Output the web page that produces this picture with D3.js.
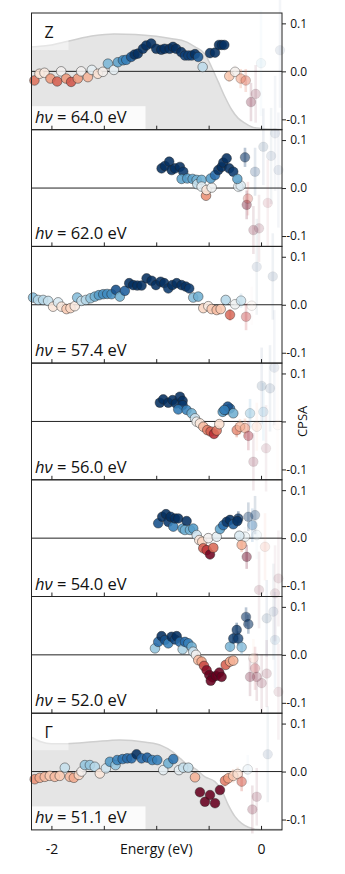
<!DOCTYPE html>
<html><head><meta charset="utf-8">
<script src="https://cdn.jsdelivr.net/npm/d3@7"></script>
<style>
body{margin:0;background:#fff}
svg{display:block}
text{font-family:"Open Sans",sans-serif;fill:#111}
</style>
</head><body><svg id="c" width="345" height="874"></svg>
<script>
// ---------- data ----------
const photonEnergies = ["64.0","62.0","57.4","56.0","54.0","52.0","51.1"];
const kLabels = ["Z","","","","","","Γ"];
const xTicks = [-2,-1.5,-1,-0.5,0];
const xTickLabels = ["-2","","","","0"];
const yTicks = [-0.1,0,0.1];

// solid points: [energy (eV), CPSA]
const cpsa64 = [[-2.162,-0.019],[-2.114,-0.005],[-2.066,-0.003],[-2.009,-0.015],[-1.945,-0.021],[-1.907,0.0],[-1.859,-0.015],[-1.812,-0.022],[-1.748,-0.015],[-1.716,0.0],[-1.652,-0.012],[-1.614,0.003],[-1.557,-0.005],[-1.509,-0.001],[-1.461,0.016],[-1.404,0.003],[-1.366,0.019],[-1.318,0.023],[-1.286,0.024],[-1.239,0.030],[-1.207,0.035],[-1.175,0.037],[-1.127,0.047],[-1.095,0.054],[-1.048,0.058],[-1.0,0.047],[-0.952,0.045],[-0.92,0.047],[-0.872,0.047],[-0.84,0.051],[-0.809,0.047],[-0.761,0.040],[-0.726,0.033],[-0.694,0.033],[-0.662,0.033],[-0.630,0.036],[-0.599,0.030],[-0.557,0.009],[-0.487,0.038],[-0.439,0.039],[-0.401,0.055],[-0.375,0.055],[-0.350,0.055]];
const cpsa62 = [[-0.949,0.041],[-0.917,0.046],[-0.876,0.055],[-0.853,0.0375],[-0.821,0.041],[-0.774,0.044],[-0.742,0.034],[-0.758,0.019],[-0.704,0.020],[-0.653,0.019],[-0.614,0.017],[-0.608,0.008],[-0.567,0.017],[-0.567,0.003],[-0.525,-0.016],[-0.52,-0.004],[-0.471,0.001],[-0.480,0.020],[-0.439,0.027],[-0.408,0.0375],[-0.376,0.044],[-0.360,0.053],[-0.328,0.062],[-0.303,0.041],[-0.265,0.034],[-0.226,0.019]];
const cpsa574 = [[-2.175,0.015],[-2.127,0.010],[-2.079,0.010],[-2.031,0.008],[-1.984,-0.004],[-1.936,0.005],[-1.904,-0.004],[-1.856,-0.009],[-1.818,-0.007],[-1.777,-0.003],[-1.754,0.015],[-1.713,0.008],[-1.671,0.010],[-1.627,0.0135],[-1.586,0.017],[-1.547,0.020],[-1.506,0.022],[-1.468,0.0225],[-1.426,0.022],[-1.385,0.031],[-1.347,0.017],[-1.299,0.029],[-1.258,0.045],[-1.220,0.041],[-1.181,0.040],[-1.140,0.040],[-1.092,0.055],[-1.044,0.050],[-1.003,0.041],[-0.958,0.048],[-0.923,0.045],[-0.885,0.034],[-0.847,0.041],[-0.805,0.045],[-0.758,0.041],[-0.719,0.038],[-0.685,0.034],[-0.647,0.015],[-0.599,0.017],[-0.551,-0.007],[-0.503,-0.003],[-0.471,-0.009],[-0.423,-0.011],[-0.385,-0.009],[-0.337,0.010]];
const cpsa56 = [[-0.965,0.039],[-0.933,0.046],[-0.885,0.039],[-0.844,0.0445],[-0.812,0.0375],[-0.774,0.0515],[-0.748,0.043],[-0.748,0.034],[-0.790,0.025],[-0.710,0.024],[-0.662,0.017],[-0.630,0.0065],[-0.614,-0.0005],[-0.583,-0.004],[-0.551,-0.011],[-0.513,-0.018],[-0.481,-0.021],[-0.449,-0.026],[-0.423,-0.019],[-0.398,-0.0055],[-0.366,0.020],[-0.334,0.024],[-0.296,0.027],[-0.318,0.031],[-0.265,0.017],[-0.350,0.024]];
const cpsa54 = [[-0.981,0.031],[-0.943,0.0445],[-0.907,0.050],[-0.885,0.034],[-0.863,0.0445],[-0.837,0.024],[-0.821,0.041],[-0.790,0.041],[-0.748,0.020],[-0.710,0.0356],[-0.726,0.017],[-0.678,0.017],[-0.647,0.020],[-0.614,0.0065],[-0.589,-0.004],[-0.561,-0.0075],[-0.551,-0.021],[-0.519,-0.025],[-0.487,-0.034],[-0.455,-0.020],[-0.503,0.000],[-0.423,0.003],[-0.392,0.019],[-0.360,0.027],[-0.328,0.034],[-0.296,0.038],[-0.265,0.029],[-0.226,0.0356],[-0.207,0.005]];
const cpsa52 = [[-1.012,0.0135],[-0.981,0.027],[-0.949,0.039],[-0.917,0.031],[-0.885,0.024],[-0.853,0.0377],[-0.821,0.032],[-0.805,0.039],[-0.774,0.027],[-0.748,0.0115],[-0.726,0.027],[-0.694,0.024],[-0.662,0.017],[-0.647,0.0065],[-0.621,0.000],[-0.599,-0.011],[-0.567,-0.014],[-0.544,-0.023],[-0.519,-0.032],[-0.494,-0.042],[-0.461,-0.047],[-0.480,-0.054],[-0.430,-0.044],[-0.398,-0.037],[-0.376,-0.046],[-0.337,-0.021],[-0.296,-0.014],[-0.265,-0.012]];
const cpsa511 = [[-2.159,-0.016],[-2.111,-0.013],[-2.063,-0.011],[-2.015,-0.009],[-1.968,-0.011],[-1.920,-0.009],[-1.872,0.008],[-1.824,-0.011],[-1.786,-0.013],[-1.738,-0.007],[-1.713,0.000],[-1.681,0.0135],[-1.633,0.0135],[-1.586,0.010],[-1.538,-0.004],[-1.480,0.0067],[-1.442,0.0204],[-1.388,0.0135],[-1.372,0.024],[-1.321,0.026],[-1.277,0.0275],[-1.235,0.0275],[-1.188,0.036],[-1.140,0.0275],[-1.086,0.029],[-1.038,0.024],[-0.990,0.024],[-0.933,0.003],[-0.885,0.017],[-0.837,0.026],[-0.783,0.003],[-0.742,0.008],[-0.694,0.008],[-0.630,-0.012],[-0.583,-0.043],[-0.535,-0.063],[-0.487,-0.049],[-0.439,-0.066],[-0.392,-0.0385]];

// faint points near E_F: [energy (eV), CPSA, error]
const faint64 = [[-0.303,-0.010,0.012],[-0.248,-0.001,0.014],[-0.194,-0.015,0.02],[-0.146,-0.019,0.024],[-0.096,-0.064,0.04],[-0.051,-0.047,0.06],[0.0,0.017,0.11],[0.181,0.044,0.12]];
const faint62 = [[-0.217,0.003,0.013],[-0.194,0.005,0.014],[-0.153,0.064,0.02],[-0.137,-0.035,0.03],[-0.125,-0.022,0.035],[-0.073,-0.0875,0.05],[-0.057,0.034,0.05],[-0.019,-0.084,0.07],[0.022,0.086,0.08],[0.064,-0.031,0.09],[0.096,0.067,0.1],[0.134,0.114,0.12],[0.166,0.0375,0.12]];
const faint574 = [[-0.296,-0.021,0.012],[-0.248,0.001,0.012],[-0.191,0.0085,0.015],[-0.143,-0.025,0.028],[-0.089,-0.002,0.04],[-0.041,0.079,0.1],[0.112,0.059,0.09]];
const faint56 = [[-0.232,-0.018,0.015],[-0.201,-0.011,0.016],[-0.153,-0.014,0.02],[-0.121,-0.030,0.03],[-0.105,0.017,0.03],[-0.041,-0.011,0.05],[-0.073,-0.084,0.06],[0.022,0.020,0.06],[0.006,0.074,0.08],[0.086,0.069,0.09],[0.127,0.112,0.12],[0.048,-0.056,0.09],[0.159,-0.0075,0.12]];
const faint54 = [[-0.217,0.041,0.015],[-0.185,-0.014,0.015],[-0.153,0.003,0.02],[-0.137,-0.039,0.025],[-0.121,0.0445,0.03],[-0.083,0.027,0.035],[-0.057,0.048,0.04],[-0.041,0.0065,0.05],[0.038,-0.018,0.07],[-0.019,-0.108,0.08],[0.166,-0.084,0.1],[0.134,-0.115,0.1]];
const faint52 = [[-0.296,0.017,0.01],[-0.265,0.034,0.012],[-0.232,0.052,0.015],[-0.217,0.034,0.015],[-0.185,0.016,0.015],[-0.143,0.079,0.02],[-0.121,0.064,0.02],[-0.073,-0.007,0.04],[-0.057,-0.028,0.045],[-0.105,-0.046,0.04],[-0.041,-0.046,0.05],[0.006,-0.059,0.06],[0.054,-0.039,0.07],[0.054,0.076,0.08],[0.118,0.090,0.1],[0.134,0.031,0.1],[0.166,-0.077,0.1]];
const faint511 = [[-0.344,-0.019,0.012],[-0.312,-0.014,0.012],[-0.265,-0.009,0.014],[-0.223,-0.005,0.015],[-0.185,-0.021,0.02],[-0.127,0.0046,0.03],[-0.083,-0.079,0.05],[-0.041,-0.0525,0.06],[0.064,0.036,0.1]];

// EDC spectra shown in grey (scaled onto CPSA axis)
const specZE = [-2.19,-2.0,-1.8,-1.6,-1.4,-1.2,-1.0,-0.85,-0.72,-0.63,-0.535,-0.47,-0.41,-0.345,-0.28,-0.217,-0.153,-0.073,0.0,0.2];
const specZI = [0.051,0.055,0.065,0.074,0.078,0.077,0.073,0.068,0.062,0.051,0.036,0.008,-0.021,-0.053,-0.080,-0.098,-0.108,-0.117,-0.119,-0.121];
const specGE = [-2.19,-2.1,-2.0,-1.85,-1.6,-1.35,-1.1,-0.95,-0.85,-0.77,-0.70,-0.63,-0.535,-0.44,-0.376,-0.312,-0.248,-0.185,-0.121,-0.05,0.2];
const specGI = [0.0715,0.062,0.058,0.058,0.062,0.066,0.061,0.054,0.042,0.027,0.014,0.006,-0.011,-0.021,-0.0385,-0.07,-0.094,-0.108,-0.116,-0.12,-0.121];

const solidSets = [cpsa64,cpsa62,cpsa574,cpsa56,cpsa54,cpsa52,cpsa511];
const faintSets = [faint64,faint62,faint574,faint56,faint54,faint52,faint511];
const spectra = [d3.zip(specZE,specZI),null,null,null,null,null,d3.zip(specGE,specGI)];

// ---------- layout ----------
const left=31.5, right=282, top0=13, panelH=116.7;
const titlePanel = 3; // panel whose zero label is replaced by the axis title
const x = d3.scaleLinear().domain([-2.19,0.2]).range([left,right]);
const color = d3.scaleSequential(d3.interpolateRdBu).domain([-0.035,0.035]).clamp(true);
const alphaOf = e => Math.max(0.08, Math.min(0.8, 0.011/e));
const fmt = d => d3.format(".1f")(d).replace("\u2212","-");
const svg = d3.select("#c");
const yScales = photonEnergies.map((_,i)=>{
  const t = top0+i*panelH;
  return d3.scaleLinear().domain([-0.1216,0.1216]).range([t+panelH,t]);
});

const gBg = svg.append("g"), gData = svg.append("g"), gFg = svg.append("g");

photonEnergies.forEach((hv,i)=>{
  const y = yScales[i];
  const t = top0+i*panelH, b = t+panelH;
  gBg.append("rect").attr("x",left).attr("y",t).attr("width",right-left).attr("height",panelH).attr("fill","#fff");
  if (spectra[i]) {
    const area = d3.area().x(d=>x(d[0])).y0(b).y1(d=>y(d[1])).curve(d3.curveMonotoneX);
    const line = d3.line().x(d=>x(d[0])).y(d=>y(d[1])).curve(d3.curveMonotoneX);
    gBg.append("path").datum(spectra[i]).attr("d",area).attr("fill","#e5e5e5");
    gBg.append("path").datum(spectra[i]).attr("d",line).attr("fill","none").attr("stroke","#cfcfcf").attr("stroke-width",1.5);
  }
  if (kLabels[i]) {
    gBg.append("rect").attr("x",left).attr("y",t).attr("width",37).attr("height",37).attr("fill","#fff").attr("opacity",0.45);
  }
  gBg.append("rect").attr("x",left).attr("y",b-23.5).attr("width",114).attr("height",23.5).attr("fill","#fff").attr("opacity",0.85);

  // zero line
  gData.append("line").attr("x1",left).attr("x2",right).attr("y1",y(0)).attr("y2",y(0)).attr("stroke","#222").attr("stroke-width",1);

  // faint points with error bars
  const fg = gData.append("g");
  fg.selectAll("line.err").data(faintSets[i]).join("line")
    .attr("x1",d=>x(d[0])).attr("x2",d=>x(d[0]))
    .attr("y1",d=>y(d[1]-d[2])).attr("y2",d=>y(d[1]+d[2]))
    .attr("stroke",d=>color(d[1])).attr("stroke-width",2.6)
    .attr("stroke-opacity",d=>alphaOf(d[2])*0.5);
  fg.selectAll("circle").data(faintSets[i]).join("circle")
    .attr("cx",d=>x(d[0])).attr("cy",d=>y(d[1])).attr("r",4.8)
    .attr("fill",d=>color(d[1])).attr("fill-opacity",d=>alphaOf(d[2]))
    .attr("stroke","#222").attr("stroke-width",0.75).attr("stroke-opacity",d=>alphaOf(d[2])*0.6);

  // solid points
  gData.append("g").selectAll("circle").data(solidSets[i]).join("circle")
    .attr("cx",d=>x(d[0])).attr("cy",d=>y(d[1])).attr("r",4.8)
    .attr("fill",d=>color(d[1])).attr("fill-opacity",0.88)
    .attr("stroke","#222").attr("stroke-width",0.75).attr("stroke-opacity",0.6);

  // frame
  gFg.append("rect").attr("x",left).attr("y",t).attr("width",right-left).attr("height",panelH)
    .attr("fill","none").attr("stroke","#222").attr("stroke-width",1);

  // right axis
  const ay = gFg.append("g").attr("transform",`translate(${right},0)`)
    .call(d3.axisRight(y).tickValues(yTicks).tickSize(4)
      .tickFormat(d => (i===titlePanel && d===0) ? "" : fmt(d)));
  ay.select(".domain").remove();
  ay.selectAll("line").attr("stroke","#222");
  ay.selectAll("text").attr("text-anchor","end").attr("x",25).attr("font-size",12)
    .attr("font-family","'Open Sans',sans-serif").attr("fill","#111");

  // bottom inward ticks
  const ax = gFg.append("g").attr("transform",`translate(0,${b})`)
    .call(d3.axisBottom(x).tickValues(xTicks).tickSizeInner(-4).tickSizeOuter(0)
      .tickFormat((d,k)=> i===photonEnergies.length-1 ? xTickLabels[k] : ""));
  ax.select(".domain").remove();
  ax.selectAll("line").attr("stroke","#222");
  ax.selectAll("text").attr("font-size",14).attr("y",14).attr("dy","0.71em")
    .attr("font-family","'Open Sans',sans-serif").attr("fill","#111");

  // labels
  const lab = gFg.append("text").attr("x",35).attr("y",b-7).attr("font-size",16.5);
  lab.append("tspan").attr("font-style","italic").text("hν");
  lab.append("tspan").text(" = "+hv+" eV");
  if (kLabels[i]) {
    gFg.append("text").attr("x",44.5).attr("y",t+24.5).attr("font-size",16).text(kLabels[i]);
  }
});

// axis titles
const bottom = top0+photonEnergies.length*panelH;
svg.append("text").attr("x",x(-1)).attr("y",bottom+14).attr("dy","0.71em").attr("text-anchor","middle")
  .attr("font-size",14).text("Energy (eV)");
svg.append("text").attr("transform",`translate(306.5,${yScales[titlePanel](0)}) rotate(-90)`)
  .attr("text-anchor","middle").attr("font-size",13).text("CPSA");
</script>
</body></html>
